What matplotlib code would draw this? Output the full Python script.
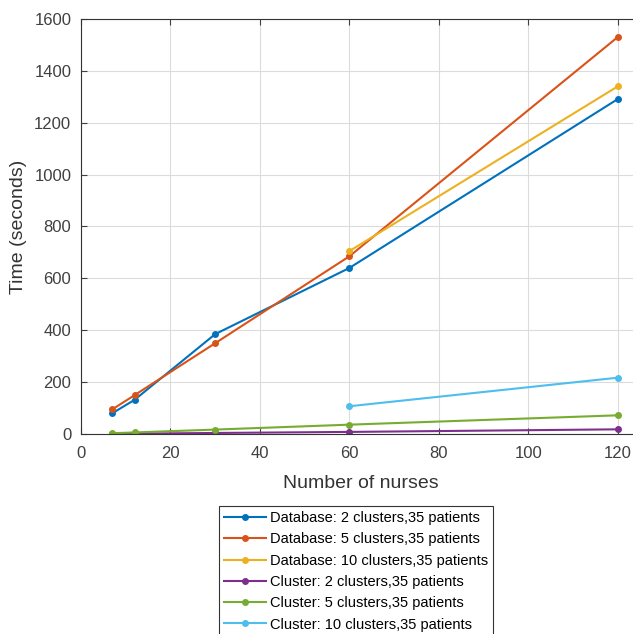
import matplotlib
matplotlib.use("Agg")
import matplotlib.pyplot as plt

plt.rcParams['font.family'] = ['Liberation Sans', 'DejaVu Sans']

x_db2 = [7, 12, 30, 60, 120]
y_db2 = [80, 132, 385, 640, 1291]
x_db5 = [7, 12, 30, 60, 120]
y_db5 = [95, 150, 350, 685, 1530]
x_db10 = [60, 120]
y_db10 = [705, 1340]
x_cl2 = [7, 12, 30, 60, 120]
y_cl2 = [1, 1.5, 4, 8, 18]
x_cl5 = [7, 12, 30, 60, 120]
y_cl5 = [3, 6, 17, 36, 72]
x_cl10 = [60, 120]
y_cl10 = [107, 217]

series = [
    (x_db2, y_db2, "Database: 2 clusters,35 patients", "#0072BD"),
    (x_db5, y_db5, "Database: 5 clusters,35 patients", "#D95319"),
    (x_db10, y_db10, "Database: 10 clusters,35 patients", "#EDB120"),
    (x_cl2, y_cl2, "Cluster: 2 clusters,35 patients", "#7E2F8E"),
    (x_cl5, y_cl5, "Cluster: 5 clusters,35 patients", "#77AC30"),
    (x_cl10, y_cl10, "Cluster: 10 clusters,35 patients", "#4DBEEE"),
]

fig = plt.figure(figsize=(6.33, 6.34), dpi=100)
ax = fig.add_axes([81/633, (634-434)/634, (640-81)/633, (434-19)/634])

for xs, ys, lab, c in series:
    ax.plot(xs, ys, '-o', color=c, lw=1.5, ms=4, label=lab)

ax.set_xlim(0, 125)
ax.set_ylim(0, 1600)
ax.set_xticks([0, 20, 40, 60, 80, 100, 120])
ax.set_yticks(range(0, 1601, 200))
ax.grid(True, color='#dcdcdc', lw=0.8)
ax.set_axisbelow(True)
ax.tick_params(direction='in', top=True, right=False, labelsize=12, colors='#404040', length=4)
ax.tick_params(axis='x', pad=9)
ax.tick_params(axis='y', pad=7)
for s in ['left', 'bottom', 'top']:
    ax.spines[s].set_color('#333333')
ax.spines['right'].set_visible(False)
ax.set_xlabel("Number of nurses", fontsize=14, color='#333333', labelpad=10)
ax.set_ylabel("Time (seconds)", fontsize=14, color='#333333', labelpad=5)

leg = fig.legend(loc='upper left', bbox_to_anchor=(219/633, 1-506/634), fontsize=10.5,
                 frameon=True, fancybox=False, edgecolor='black', handlelength=2.9,
                 labelspacing=0.5, borderaxespad=0, handletextpad=0.25, borderpad=0.35)
leg.get_frame().set_linewidth(0.8)

fig.savefig("out.png", dpi=100)
